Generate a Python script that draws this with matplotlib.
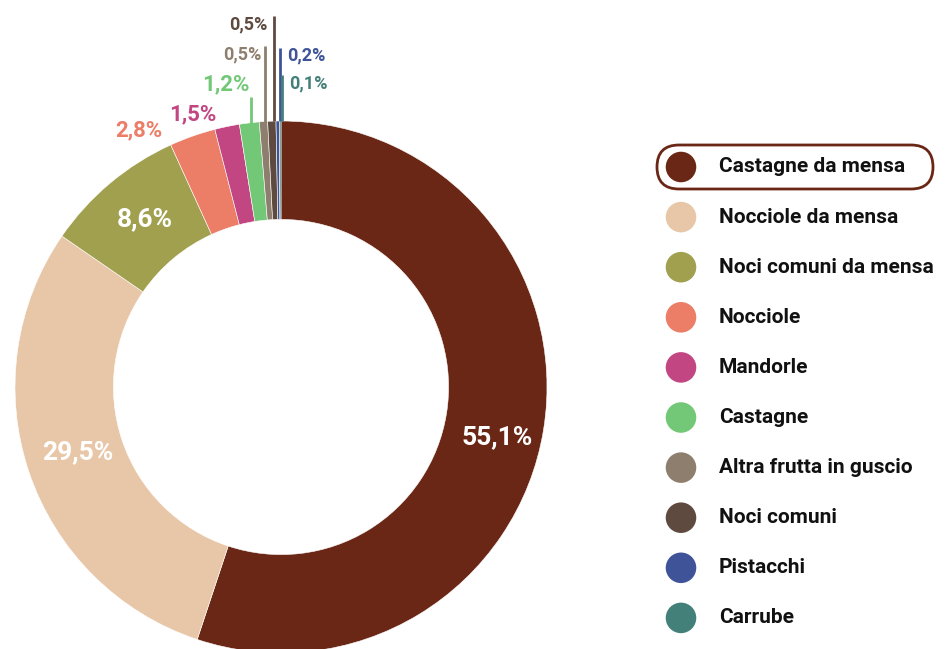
import numpy as np
import matplotlib.pyplot as plt
from matplotlib.patches import FancyBboxPatch

plt.rcParams['font.family'] = ['Roboto', 'DejaVu Sans']

categories = ['Castagne da mensa', 'Nocciole da mensa', 'Noci comuni da mensa',
              'Nocciole', 'Mandorle', 'Castagne', 'Altra frutta in guscio',
              'Noci comuni', 'Pistacchi', 'Carrube']
values = [55.1, 29.5, 8.6, 2.8, 1.5, 1.2, 0.5, 0.5, 0.2, 0.1]
labels = ['55,1%', '29,5%', '8,6%', '2,8%', '1,5%', '1,2%', '0,5%', '0,5%', '0,2%', '0,1%']
colors = ['#6b2716', '#e8c7a8', '#a0a04f', '#ec7d67', '#c24682',
          '#73c877', '#8e7e6e', '#5f4a40', '#3f5398', '#44807a']

W, H = 952, 649
fig = plt.figure(figsize=(W / 100, H / 100), dpi=100)
ax = fig.add_axes([0, 0, 1, 1])
ax.set_aspect('equal')

cx, cy, R = 281, H - 387, 266
width = 0.37

ax.pie(values, colors=colors, startangle=90, counterclock=False,
       center=(cx, cy), radius=R, frame=True,
       wedgeprops=dict(width=R * width, edgecolor='white', linewidth=0.4))
ax.set_xlim(0, W)
ax.set_ylim(0, H)
ax.axis('off')

# inner labels (white) for the big wedges
inner = {0: (497, 437), 1: (78, 452), 2: (145, 219)}
# outer labels: (x, y, ha, size, line_top_y or None)
outer = {3: (139, 130, 'center', 16, None),
         4: (193, 114, 'center', 16, None),
         5: (226, 84, 'center', 16, 97),
         6: (261, 54, 'right', 13, 46),
         7: (268, 24, 'right', 13, 16),
         8: (287, 55, 'left', 13, 48),
         9: (289, 83, 'left', 13, 75)}

cum = np.cumsum([0] + values)
total = cum[-1]
for i, lab in enumerate(labels):
    if i in inner:
        x, y = inner[i]
        ax.text(x, H - y, lab, color='white', fontsize=19, fontweight='bold',
                ha='center', va='center')
    else:
        x, y, ha, fs, ltop = outer[i]
        ax.text(x, H - y, lab, color=colors[i], fontsize=fs, fontweight='bold',
                ha=ha, va='center')
        if ltop is not None:
            mid = (cum[i] + values[i] / 2) / total * 2 * np.pi
            lx = cx + 2 + R * np.sin(mid)
            ly = cy + R * np.cos(mid)
            ax.plot([lx, lx], [ly, H - ltop], color=colors[i], lw=2,
                    solid_capstyle='butt')

# legend
lx0, ly0, step = 681, 167, 50.1
for i, cat in enumerate(categories):
    y = H - (ly0 + i * step)
    ax.scatter([lx0], [y], s=22 ** 2, color=colors[i], edgecolors='none')
    ax.text(719, y, cat, fontsize=15, fontweight='bold', color='#111111',
            ha='left', va='center')

box = FancyBboxPatch((657, H - 189), 276, 44,
                     boxstyle='round,pad=0,rounding_size=22',
                     facecolor='none', edgecolor=colors[0], lw=2)
ax.add_patch(box)

fig.savefig('out.png', dpi=100)
